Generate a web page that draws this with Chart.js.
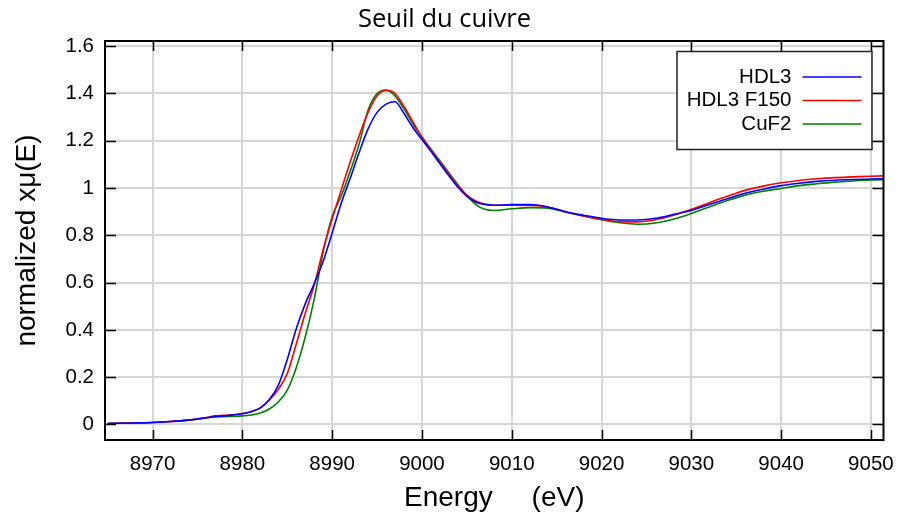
<!DOCTYPE html>
<html>
<head>
<meta charset="utf-8">
<script src="https://cdn.jsdelivr.net/npm/chart.js@4"></script>
<style>
  html, body { margin: 0; padding: 0; background: #fff; }
  #wrap { width: 906px; height: 515px; }
</style>
</head>
<body>
<div id="wrap"><canvas id="xanes" width="906" height="515"></canvas></div>
<script>
// energies (eV) and normalized absorption
const energy = [8965, 8968, 8970, 8972, 8974, 8976, 8977, 8978, 8980, 8981, 8982, 8983, 8984, 8985, 8986, 8987, 8988, 8989, 8990, 8991, 8992, 8993, 8994, 8995, 8996, 8997, 8998, 8999, 9000, 9001, 9002, 9003, 9004, 9005, 9006, 9007, 9008, 9010, 9012, 9014, 9016, 9018, 9020, 9022, 9024, 9026, 9028, 9030, 9032, 9034, 9036, 9038, 9040, 9042, 9044, 9046, 9048, 9050, 9052];

const hdl3 = [0.004, 0.006, 0.008, 0.012, 0.018, 0.028, 0.034, 0.036, 0.045, 0.054, 0.070, 0.105, 0.165, 0.275, 0.405, 0.510, 0.595, 0.690, 0.810, 0.935, 1.040, 1.150, 1.250, 1.320, 1.355, 1.365, 1.315, 1.255, 1.205, 1.155, 1.103, 1.052, 1.003, 0.965, 0.940, 0.930, 0.927, 0.930, 0.930, 0.920, 0.900, 0.885, 0.872, 0.865, 0.865, 0.872, 0.888, 0.905, 0.930, 0.955, 0.978, 0.995, 1.010, 1.020, 1.028, 1.033, 1.036, 1.038, 1.040];

const hdl3F150 = [0.004, 0.006, 0.008, 0.012, 0.018, 0.029, 0.036, 0.038, 0.046, 0.055, 0.070, 0.102, 0.148, 0.215, 0.340, 0.470, 0.590, 0.740, 0.870, 0.990, 1.110, 1.220, 1.320, 1.390, 1.413, 1.400, 1.345, 1.280, 1.215, 1.160, 1.110, 1.060, 1.010, 0.970, 0.945, 0.932, 0.927, 0.927, 0.926, 0.920, 0.900, 0.882, 0.867, 0.858, 0.857, 0.866, 0.885, 0.910, 0.938, 0.965, 0.990, 1.008, 1.022, 1.032, 1.039, 1.044, 1.047, 1.050, 1.052];

const cuf2 = [0.004, 0.006, 0.008, 0.012, 0.018, 0.027, 0.032, 0.033, 0.036, 0.040, 0.048, 0.065, 0.095, 0.145, 0.240, 0.370, 0.530, 0.730, 0.880, 0.965, 1.070, 1.185, 1.330, 1.400, 1.415, 1.390, 1.335, 1.270, 1.216, 1.165, 1.115, 1.065, 1.015, 0.968, 0.930, 0.910, 0.905, 0.912, 0.917, 0.915, 0.898, 0.882, 0.866, 0.853, 0.847, 0.852, 0.868, 0.892, 0.920, 0.947, 0.970, 0.986, 0.998, 1.010, 1.018, 1.025, 1.030, 1.034, 1.036];

const seriesNames = ["HDL3", "HDL3 F150", "CuF2"];
const seriesColors = ["#0000ff", "#ff0000", "#008000"];

const xTicks = [8970, 8980, 8990, 9000, 9010, 9020, 9030, 9040, 9050];
const yTicks = [0, 0.2, 0.4, 0.6, 0.8, 1, 1.2, 1.4, 1.6];

const tickFont = { family: "'Liberation Sans', Arial, sans-serif", size: 20.5 };

function toPoints(vals) {
    return energy.map((e, i) => ({ x: e, y: vals[i] }));
}

// black frame all round + inward ticks on the four sides (gnuplot look)
const framePlugin = {
    id: "frame",
    afterDatasetsDraw(chart) {
        const { ctx, chartArea: a, scales } = chart;
        ctx.save();
        ctx.strokeStyle = "#000";
        ctx.lineWidth = 1.5;
        ctx.beginPath();
        xTicks.forEach(v => {
            const px = Math.round(scales.x.getPixelForValue(v)) + 0.5;
            ctx.moveTo(px, a.bottom); ctx.lineTo(px, a.bottom - 10);
            ctx.moveTo(px, a.top); ctx.lineTo(px, a.top + 10);
        });
        yTicks.forEach(v => {
            const py = Math.round(scales.y.getPixelForValue(v)) + 0.5;
            ctx.moveTo(a.left, py); ctx.lineTo(a.left + 11, py);
            ctx.moveTo(a.right, py); ctx.lineTo(a.right - 11, py);
        });
        ctx.stroke();
        ctx.lineWidth = 2;
        ctx.strokeRect(a.left, a.top, a.right - a.left, a.bottom - a.top);
        ctx.restore();
    }
};

// boxed legend, labels right-aligned with the line sample on the right
const boxLegend = {
    id: "boxLegend",
    afterDraw(chart) {
        const { ctx, chartArea: a } = chart;
        const right = a.right - 12, top = a.top + 10;
        const w = 195, h = 98;
        ctx.save();
        ctx.fillStyle = "#fff";
        ctx.fillRect(right - w, top, w, h);
        ctx.strokeStyle = "#222";
        ctx.lineWidth = 1.5;
        ctx.strokeRect(right - w + 0.5, top + 0.5, w, h);
        ctx.font = `${tickFont.size}px ${tickFont.family}`;
        ctx.textAlign = "right";
        ctx.textBaseline = "middle";
        chart.data.datasets.forEach((ds, i) => {
            const y = top + 26 + i * 23.5;
            ctx.fillStyle = "#000";
            ctx.fillText(ds.label, right - 80, y);
            ctx.strokeStyle = ds.borderColor;
            ctx.lineWidth = 1.5;
            ctx.beginPath();
            ctx.moveTo(right - 69, y);
            ctx.lineTo(right - 10, y);
            ctx.stroke();
        });
        ctx.restore();
    }
};

const allSeries = [hdl3, hdl3F150, cuf2];

new Chart(document.getElementById("xanes"), {
    type: "line",
    data: {
        datasets: allSeries.map((vals, i) => ({
            label: seriesNames[i],
            data: toPoints(vals),
            borderColor: seriesColors[i],
            borderWidth: 1.6,
            pointRadius: 0,
            fill: false,
            cubicInterpolationMode: "monotone"
        }))
    },
    options: {
        responsive: false,
        devicePixelRatio: 1,
        animation: false,
        layout: { padding: { left: 0, right: 17, top: 0, bottom: 0 } },
        plugins: {
            legend: { display: false },
            tooltip: { enabled: false },
            title: {
                display: true,
                text: "Seuil du cuivre",
                color: "#000",
                font: { family: "'Open Sans', sans-serif", size: 25.5, weight: "normal" },
                padding: { top: 4, bottom: 6.4 }
            }
        },
        scales: {
            x: {
                type: "linear",
                min: 8964.7,
                max: 9051.4,
                afterBuildTicks: s => { s.ticks = xTicks.map(v => ({ value: v })); },
                afterFit: s => { s.height = 75; },
                grid: { color: "#d6d6d6", lineWidth: 2, drawTicks: false },
                border: { display: false },
                ticks: { font: tickFont, color: "#000", padding: 12, maxRotation: 0, callback: v => String(v) },
                title: {
                    display: true,
                    text: "Energy     (eV)",
                    color: "#000",
                    font: { family: "'Liberation Sans', Arial, sans-serif", size: 28 },
                    padding: { top: 0, bottom: 0 }
                }
            },
            y: {
                type: "linear",
                min: -0.066,
                max: 1.622,
                afterBuildTicks: s => { s.ticks = yTicks.map(v => ({ value: v })); },
                afterFit: s => { s.width = 105; },
                grid: { color: "#d6d6d6", lineWidth: 2, drawTicks: false },
                border: { display: false },
                ticks: { font: tickFont, color: "#000", padding: 11, callback: v => String(Math.round(v * 10) / 10) },
                title: {
                    display: true,
                    text: "normalized xμ(E)",
                    color: "#000",
                    font: { family: "'Liberation Sans', Arial, sans-serif", size: 28 },
                    padding: { top: 10, bottom: 0 }
                }
            }
        }
    },
    plugins: [framePlugin, boxLegend]
});
</script>
</body>
</html>
